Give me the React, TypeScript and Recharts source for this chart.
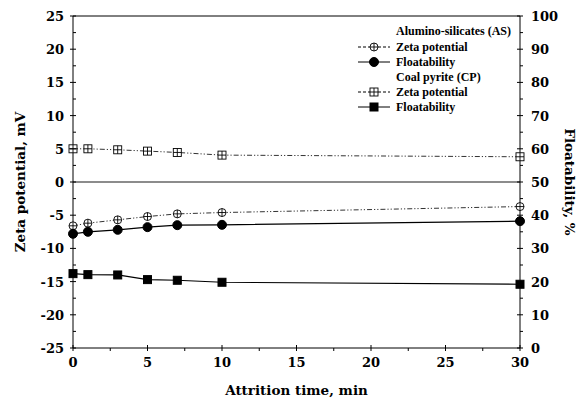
import React from "react";
import {
  ComposedChart,
  Line,
  XAxis,
  YAxis,
  ReferenceLine,
  Legend,
} from "recharts";

const times = [0, 1, 3, 5, 7, 10, 30];
const asZeta = [-6.6, -6.2, -5.7, -5.2, -4.8, -4.6, -3.7];
const asFloat = [34.4, 35.0, 35.6, 36.4, 37.0, 37.1, 38.2];
const cpZeta = [5.0, 5.0, 4.85, 4.65, 4.45, 4.05, 3.8];
const cpFloat = [22.4, 22.1, 22.0, 20.6, 20.4, 19.8, 19.2];

const xTicks = [0, 2.5, 5, 7.5, 10, 12.5, 15, 17.5, 20, 22.5, 25, 27.5, 30];
const zetaTicks = [
  -25, -22.5, -20, -17.5, -15, -12.5, -10, -7.5, -5, -2.5, 0, 2.5, 5, 7.5, 10,
  12.5, 15, 17.5, 20, 22.5, 25,
];
const floatTicks = [
  0, 5, 10, 15, 20, 25, 30, 35, 40, 45, 50, 55, 60, 65, 70, 75, 80, 85, 90, 95,
  100,
];

const data = times.map((t, i) => ({
  t,
  asZeta: asZeta[i],
  asFloat: asFloat[i],
  cpZeta: cpZeta[i],
  cpFloat: cpFloat[i],
}));

const FONT = "'DejaVu Serif', serif";
const LEG_FONT = "'Liberation Serif', serif";
const ZETA_DASH = "5 2 1.2 2 1.2 2";

const makeTick = (side: string, step: number) => (props: any) => {
  const { x, y, payload } = props;
  const v = payload.value;
  const major = Math.abs(v / step - Math.round(v / step)) < 1e-6;
  const text = { fontFamily: FONT, fontWeight: 700, fontSize: 13, fill: "#000" };
  if (side === "bottom") {
    return (
      <g>
        <line x1={x} x2={x} y1={major ? y - 3 : y} y2={y + 3} stroke="#000" />
        {major && (
          <text x={x} y={y + 19} textAnchor="middle" {...text}>
            {v}
          </text>
        )}
      </g>
    );
  }
  const lbl =
    side === "left" ? (
      <text x={x - 9} y={y + 5} textAnchor="end" {...text}>
        {v}
      </text>
    ) : (
      <text x={x + 11} y={y + 5} textAnchor="start" {...text}>
        {v}
      </text>
    );
  return (
    <g>
      <line x1={major ? x - 3 : x} x2={x + 3} y1={y} y2={y} stroke="#000" />
      {major && lbl}
    </g>
  );
};

const CrossCircle = ({ cx, cy }: any) => (
  <g>
    <circle cx={cx} cy={cy} r={4} fill="#fff" stroke="#000" strokeWidth={0.9} />
    <line x1={cx - 4} x2={cx + 4} y1={cy} y2={cy} stroke="#000" strokeWidth={0.9} />
    <line x1={cx} x2={cx} y1={cy - 4} y2={cy + 4} stroke="#000" strokeWidth={0.9} />
  </g>
);

const CrossSquare = ({ cx, cy }: any) => (
  <g>
    <rect x={cx - 4} y={cy - 4} width={8} height={8} fill="#fff" stroke="#000" strokeWidth={0.9} />
    <line x1={cx - 4} x2={cx + 4} y1={cy} y2={cy} stroke="#000" strokeWidth={0.9} />
    <line x1={cx} x2={cx} y1={cy - 4} y2={cy + 4} stroke="#000" strokeWidth={0.9} />
  </g>
);

const FilledCircle = ({ cx, cy }: any) => (
  <circle cx={cx} cy={cy} r={4.5} fill="#000" stroke="#000" />
);

const FilledSquare = ({ cx, cy }: any) => (
  <rect x={cx - 4} y={cy - 4} width={8} height={8} fill="#000" stroke="#000" />
);

const LegendBox = () => {
  const t = { fontFamily: LEG_FONT, fontWeight: 700, fontSize: 12, fill: "#000" };
  const row = (y: number, label: string, dashed: boolean, Mark: any) => (
    <g key={y + label}>
      <line
        x1={4}
        x2={36}
        y1={y}
        y2={y}
        stroke="#000"
        strokeWidth={1}
        strokeDasharray={dashed ? "3 2" : undefined}
      />
      <Mark cx={20} cy={y} />
      <text x={42} y={y + 4} {...t}>
        {label}
      </text>
    </g>
  );
  return (
    <svg width={190} height={110}>
      <text x={42} y={15} {...t}>
        Alumino-silicates (AS)
      </text>
      {row(27, "Zeta potential", true, CrossCircle)}
      {row(42, "Floatability", false, FilledCircle)}
      <text x={42} y={61} {...t}>
        Coal pyrite (CP)
      </text>
      {row(72, "Zeta potential", true, CrossSquare)}
      {row(87, "Floatability", false, FilledSquare)}
    </svg>
  );
};

export default function App() {
  return (
    <div style={{ position: "absolute", left: 0, top: 0, background: "#fff" }}>
      <ComposedChart
        width={584}
        height={407}
        data={data}
        margin={{ top: 16, right: 0, bottom: 0, left: 0 }}
      >
        <XAxis
          dataKey="t"
          type="number"
          domain={[0, 30]}
          ticks={xTicks}
          interval={0}
          height={59}
          tickSize={0}
          tickMargin={0}
          tickLine={false}
          axisLine={{ stroke: "#000" }}
          tick={makeTick("bottom", 5)}
          label={{
            value: "Attrition time, min",
            position: "insideBottom",
            offset: 12,
            style: { fontFamily: FONT, fontWeight: 700, fontSize: 13.5, fill: "#000" },
          }}
        />
        <YAxis
          yAxisId="left"
          type="number"
          domain={[-25, 25]}
          ticks={zetaTicks}
          interval={0}
          width={73}
          tickSize={0}
          tickMargin={0}
          tickLine={false}
          axisLine={{ stroke: "#000" }}
          tick={makeTick("left", 5)}
          label={{
            value: "Zeta potential, mV",
            angle: -90,
            position: "insideLeft",
            offset: 20,
            style: { textAnchor: "middle", fontFamily: FONT, fontWeight: 700, fontSize: 13.5, fill: "#000" },
          }}
        />
        <YAxis
          yAxisId="right"
          orientation="right"
          type="number"
          domain={[0, 100]}
          ticks={floatTicks}
          interval={0}
          width={64}
          tickSize={0}
          tickMargin={0}
          tickLine={false}
          axisLine={{ stroke: "#000" }}
          tick={makeTick("right", 10)}
          label={{
            value: "Floatability, %",
            angle: 90,
            position: "insideRight",
            offset: 14,
            style: { textAnchor: "middle", fontFamily: FONT, fontWeight: 700, fontSize: 13.5, fill: "#000" },
          }}
        />
        <ReferenceLine yAxisId="left" y={25} stroke="#000" />
        <ReferenceLine yAxisId="left" y={0} stroke="#666" strokeWidth={1.5} />
        <Line
          yAxisId="left"
          dataKey="cpZeta"
          type="linear"
          stroke="#333"
          strokeWidth={1}
          strokeDasharray={ZETA_DASH}
          dot={<CrossSquare />}
          isAnimationActive={false}
        />
        <Line
          yAxisId="left"
          dataKey="asZeta"
          type="linear"
          stroke="#333"
          strokeWidth={1}
          strokeDasharray={ZETA_DASH}
          dot={<CrossCircle />}
          isAnimationActive={false}
        />
        <Line
          yAxisId="right"
          dataKey="asFloat"
          type="linear"
          stroke="#000"
          strokeWidth={1.2}
          dot={<FilledCircle />}
          isAnimationActive={false}
        />
        <Line
          yAxisId="right"
          dataKey="cpFloat"
          type="linear"
          stroke="#000"
          strokeWidth={1.2}
          dot={<FilledSquare />}
          isAnimationActive={false}
        />
        <Legend
          layout="vertical"
          align="center"
          verticalAlign="middle"
          content={() => <LegendBox />}
          wrapperStyle={{ left: 354, top: 20, width: 190, height: 110 }}
        />
      </ComposedChart>
    </div>
  );
}
